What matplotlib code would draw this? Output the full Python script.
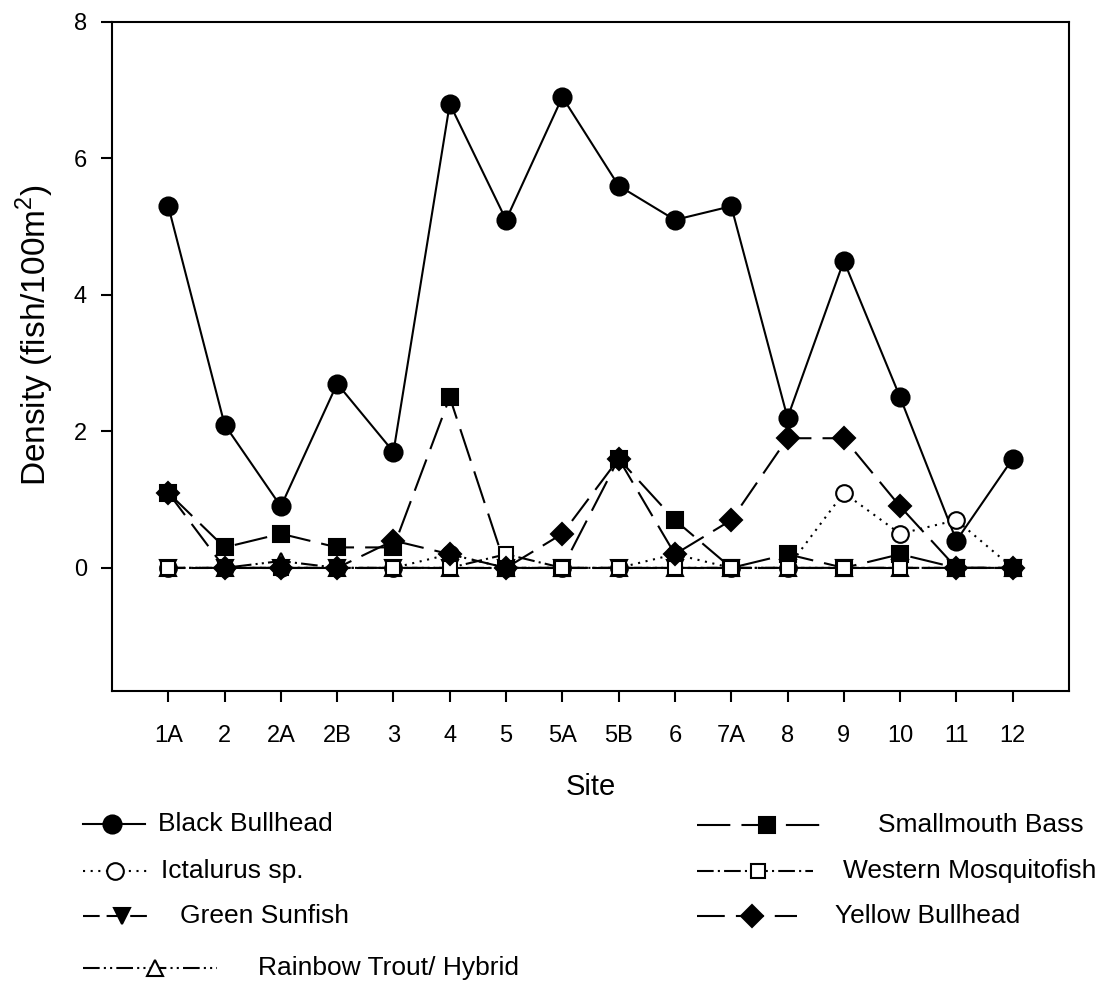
import numpy as np
import matplotlib
matplotlib.use("Agg")
import matplotlib.pyplot as plt
from matplotlib.lines import Line2D

plt.rcParams['font.family'] = ['Liberation Sans', 'DejaVu Sans']
plt.rcParams['lines.scale_dashes'] = False
plt.rcParams['mathtext.fontset'] = 'custom'
plt.rcParams['mathtext.rm'] = 'Liberation Sans'

sites = ["1A", "2", "2A", "2B", "3", "4", "5", "5A", "5B", "6", "7A", "8", "9", "10", "11", "12"]

black_bullhead = [5.3, 2.1, 0.9, 2.7, 1.7, 6.8, 5.1, 6.9, 5.6, 5.1, 5.3, 2.2, 4.5, 2.5, 0.4, 1.6]
ictalurus_sp = [0, 0, 0, 0, 0, 0.2, 0, 0, 0, 0.2, 0, 0, 1.1, 0.5, 0.7, 0]
green_sunfish = [0, 0, 0, 0, 0, 0, 0, 0, 0, 0, 0, 0, 0, 0, 0, 0]
rainbow_trout = [0, 0, 0.1, 0, 0, 0, 0, 0, 0, 0, 0, 0, 0, 0, 0, 0]
smallmouth_bass = [1.1, 0.3, 0.5, 0.3, 0.3, 2.5, 0, 0, 1.6, 0.7, 0, 0.2, 0, 0.2, 0, 0]
western_mosquitofish = [0, 0, 0, 0, 0, 0, 0.2, 0, 0, 0, 0, 0, 0, 0, 0, 0]
yellow_bullhead = [1.1, 0, 0, 0, 0.4, 0.2, 0, 0.5, 1.6, 0.2, 0.7, 1.9, 1.9, 0.9, 0, 0]

yticks = [0, 2, 4, 6, 8]

LW = 1.5
series = [
    ("Black Bullhead", black_bullhead, dict(ls='-', marker='o', ms=13, mfc='black')),
    ("Ictalurus sp.", ictalurus_sp, dict(ls=(0, (1.5, 4)), marker='o', ms=12, mfc='white')),
    ("Green Sunfish", green_sunfish, dict(ls=(0, (12, 5)), marker='v', ms=11, mfc='black')),
    ("Rainbow Trout/ Hybrid", rainbow_trout, dict(ls=(0, (12, 3, 1.5, 3, 1.5, 3)), marker='^', ms=11, mfc='white')),
    ("Smallmouth Bass", smallmouth_bass, dict(ls=(0, (24, 8)), marker='s', ms=12, mfc='black')),
    ("Western Mosquitofish", western_mosquitofish, dict(ls=(0, (12, 3, 1.5, 3)), marker='s', ms=10, mfc='white')),
    ("Yellow Bullhead", yellow_bullhead, dict(ls=(0, (20, 8)), marker='D', ms=11, mfc='black')),
]

W, H = 1103, 983
fig = plt.figure(figsize=(W / 100, H / 100), dpi=100)
ax_left, ax_right, ax_top, ax_bottom = 112, 1069, 22, 690.7
ax = fig.add_axes([ax_left / W, 1 - ax_bottom / H, (ax_right - ax_left) / W, (ax_bottom - ax_top) / H])

x = np.arange(1, len(sites) + 1)
for name, vals, st in series:
    ax.plot(x, vals, color='black', lw=LW, mec='black', mew=1.5, **st)

ax.set_xlim(0, len(sites) + 1)
ax.set_ylim(-1.8, 8)
ax.set_xticks(x)
ax.set_xticklabels(sites)
ax.set_yticks(yticks)
ax.tick_params(direction='out', length=8, width=1.5, labelsize=17)
ax.tick_params(axis='x', pad=17)
ax.tick_params(axis='y', pad=10)
for sp in ax.spines.values():
    sp.set_linewidth(1.5)
ax.set_xlabel("Site", fontsize=21)
ax.set_ylabel("Density (fish/100m$^2$)", fontsize=24)
ax.xaxis.set_label_coords(0.5, -(787 - ax_bottom) / (ax_bottom - ax_top), transform=ax.transAxes)
ax.xaxis.label.set_va('center')
ax.yaxis.set_label_coords(-(ax_left - 35) / (ax_right - ax_left),
                          (ax_bottom - 335) / (ax_bottom - ax_top), transform=ax.transAxes)
ax.yaxis.label.set_va('center')

# legend laid out in two columns below the axes (pixel positions)
legend_layout = [
    # (line x0, line x1, marker x, text x, y)
    (83, 145, 112, 158, 824),
    (83, 148, 115, 161, 871),
    (83, 153, 122, 180, 916),
    (83, 217, 155, 258, 968),
    (697, 825, 767, 878, 825),
    (697, 813, 758, 843, 871),
    (697, 797, 752, 835, 916),
]
for (name, vals, st), (x0, x1, xm, xt, yy) in zip(series, legend_layout):
    fy = 1 - yy / H
    ls = st['ls']
    fig.add_artist(Line2D([x0 / W, x1 / W], [fy, fy], transform=fig.transFigure,
                          color='black', lw=LW, ls=ls))
    fig.add_artist(Line2D([xm / W], [fy], transform=fig.transFigure, ls='none',
                          marker=st['marker'], ms=st['ms'], mfc=st['mfc'], mec='black', mew=1.5))
    fig.text(xt / W, fy, name, fontsize=19, va='center', ha='left')

fig.savefig("out.png", dpi=100, facecolor='white')
